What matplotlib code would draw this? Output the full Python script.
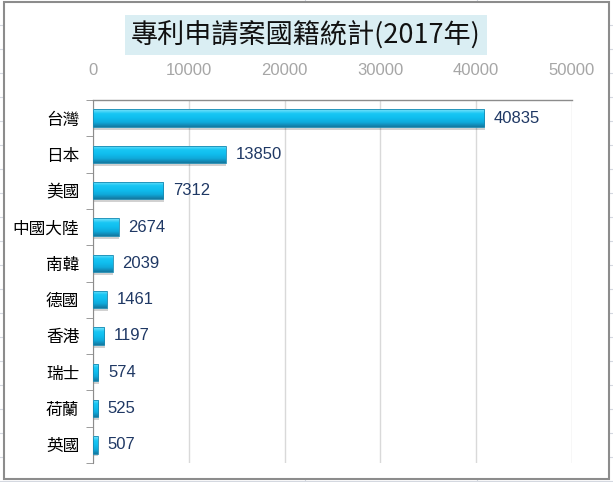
import numpy as np
import matplotlib.pyplot as plt
from matplotlib.patches import Rectangle
from matplotlib.colors import LinearSegmentedColormap

plt.rcParams['font.family'] = ['Noto Sans CJK TC', 'DejaVu Sans']

countries = ['台灣', '日本', '美國', '中國大陸', '南韓', '德國', '香港', '瑞士', '荷蘭', '英國']
counts = [40835, 13850, 7312, 2674, 2039, 1461, 1197, 574, 525, 507]
xticks = [0, 10000, 20000, 30000, 40000, 50000]
title = '專利申請案國籍統計(2017年)'

W, H = 613, 482
fig = plt.figure(figsize=(W / 100, H / 100), dpi=100)

# spreadsheet grid behind the chart object
bg = fig.add_axes([0, 0, 1, 1], zorder=-5)
bg.set_xlim(0, W)
bg.set_ylim(H, 0)
bg.axis('off')
for yy in range(25, H, 24):
    bg.axhline(yy, color='#D4D8E0', lw=0.8, zorder=1)
for xx in [305, 477]:
    bg.axvline(xx, color='#D4D8E0', lw=0.8, zorder=1)
bg.add_patch(Rectangle((4, 2), 605, 477, facecolor='white', edgecolor='#8C8C8C', lw=1.5, zorder=5))

x0, x1 = 93, 572
ytop, ybot = 100, 463
ax = fig.add_axes([x0 / W, 1 - ybot / H, (x1 - x0) / W, (ybot - ytop) / H])
ax.set_facecolor('none')

pos = np.arange(len(countries))
bars = ax.barh(pos, counts, height=0.48, color='#12C2F2', edgecolor='none', zorder=3)

# gradient fill and shadow for the bevelled look
grad = np.linspace(0, 1, 64).reshape(-1, 1)
cmap = LinearSegmentedColormap.from_list('bev', ['#7FE4FB', '#18C6F4', '#10BDEE', '#0FA9DA', '#1478A0'])
for b in bars:
    x, y, w, h = b.get_x(), b.get_y(), b.get_width(), b.get_height()
    sh = Rectangle((x + 60, y + 0.08), w, h, facecolor='#000000', alpha=0.18, edgecolor='none', zorder=2)
    ax.add_patch(sh)
    im = ax.imshow(grad, cmap=cmap, aspect='auto', extent=(x, x + w, y + h, y), zorder=3.5)
    im.set_clip_path(b)
    ax.add_patch(Rectangle((x, y), w, h, facecolor='none', edgecolor='#1A8AB2', lw=0.6, zorder=4))

for p, v in zip(pos, counts):
    ax.text(v + 1000, p, str(v), va='center', ha='left', fontsize=12, color='#1F3864',
            family=['Liberation Sans'], zorder=5)

ax.set_xlim(0, 50000)
ax.set_ylim(len(countries) - 0.5, -0.5)
ax.set_xticks(xticks)
ax.set_xticklabels([str(t) for t in xticks], family=['Liberation Sans'])
ax.xaxis.tick_top()
ax.tick_params(axis='x', length=0, pad=16, labelsize=12, labelcolor='#A6A6A6')
ax.set_yticks(pos)
ax.set_yticklabels(countries, fontsize=12)
ax.set_yticks(np.arange(-0.5, len(countries), 1), minor=True)
ax.tick_params(axis='y', which='major', length=0, pad=10)
ax.tick_params(axis='y', which='minor', length=5, color='#8C8C8C', direction='out')
ax.grid(axis='x', color='#D9D9D9', lw=1, zorder=0)
for s in ['right', 'bottom']:
    ax.spines[s].set_visible(False)
ax.spines['left'].set_color('#8C8C8C')
ax.spines['top'].set_color('#8C8C8C')
ax.spines['top'].set_linewidth(1.0)

fig.text(306 / W, 1 - 35 / H, title, ha='center', va='center', fontsize=19.5, color='#111111',
         bbox=dict(facecolor='#DAEEF3', edgecolor='none', pad=4))

fig.savefig('out.png', dpi=100)
